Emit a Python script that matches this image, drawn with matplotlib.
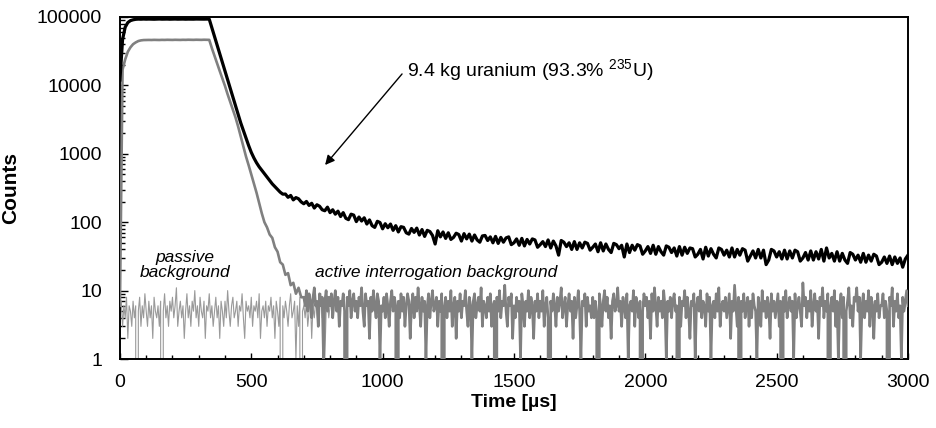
import numpy as np
import matplotlib
matplotlib.use("Agg")
import matplotlib.pyplot as plt
from matplotlib.ticker import FixedLocator, LogLocator, FuncFormatter, MultipleLocator, NullFormatter

plt.rcParams['font.family'] = ['Liberation Sans', 'DejaVu Sans']
plt.rcParams['mathtext.fontset'] = 'custom'
plt.rcParams['mathtext.rm'] = 'Liberation Sans'
plt.rcParams['mathtext.it'] = 'Liberation Sans:italic'
plt.rcParams['mathtext.bf'] = 'Liberation Sans:bold'
plt.rcParams['mathtext.default'] = 'regular'

# ---------------- data (counts per time bin) ----------------
bin_us = 10            # bin width of uranium trace and active rise/decay [us]
active_tail_start = 700
active_tail_bin_us = 5
passive_bin_us = 5

# 9.4 kg uranium (black), 10 us bins from t = 0
black_rise = [12000, 47000, 71000, 83000, 88500, 91000, 92500]
black_plateau = [93100, 92800, 93300, 92900, 93200, 93000, 92700, 93100, 93400, 92900,
                 93000, 93200, 92800, 93100, 93300, 92900, 93000, 93200, 92800, 93100,
                 93000, 92900, 93300, 93100, 92800, 93000, 93200, 93000]
black_decay = [69500, 52000, 39000, 29000, 21700, 16300, 12100, 9100, 6800, 5050,
               3780, 2820, 2190, 1700, 1320, 1050, 870, 740, 645, 575,
               510, 457, 407, 363, 331, 302, 275, 257]
black_tail = [258, 231, 246, 212, 229, 220, 198, 186, 201, 176,
              189, 161, 180, 171, 152, 147, 166, 138, 152, 131,
              145, 121, 138, 114, 109, 131, 127, 102, 119, 104,
              116, 94, 108, 89, 84, 103, 99, 80, 95, 83,
              94, 76, 89, 72, 86, 84, 70, 67, 81, 71,
              82, 65, 78, 62, 76, 73, 64, 48, 75, 61,
              72, 58, 70, 56, 60, 69, 66, 53, 68, 57,
              67, 53, 65, 55, 51, 63, 64, 54, 61, 50,
              62, 49, 60, 51, 59, 61, 47, 50, 57, 46,
              58, 45, 56, 48, 57, 55, 43, 47, 52, 44,
              55, 42, 53, 45, 33, 54, 51, 44, 50, 40,
              52, 40, 50, 42, 51, 49, 39, 43, 48, 37,
              50, 38, 48, 40, 36, 49, 47, 41, 46, 31,
              48, 36, 46, 39, 47, 45, 34, 38, 44, 35,
              46, 34, 44, 37, 33, 45, 43, 36, 42, 32,
              44, 33, 43, 35, 42, 41, 31, 34, 40, 29,
              43, 32, 41, 34, 30, 42, 40, 33, 39, 31,
              42, 31, 40, 33, 41, 39, 27, 32, 38, 30,
              40, 30, 39, 24, 28, 40, 38, 31, 37, 29,
              39, 29, 38, 30, 39, 37, 27, 30, 36, 28,
              38, 28, 37, 29, 40, 27, 42, 30, 35, 27,
              37, 27, 35, 28, 25, 36, 34, 28, 33, 26,
              35, 26, 33, 27, 34, 32, 24, 26, 31, 25,
              32, 24, 31, 25, 30, 22, 29, 33]

# active interrogation background (gray): 10 us bins up to 690 us, then 5 us bins
active_rise = [6, 17000, 24000, 31000, 36000, 40000, 42500, 44500, 45500]
active_plateau = [46000, 46100, 46200, 46100, 46300, 46200, 46100, 46300, 46200, 46400,
                  46300, 46200, 46400, 46300, 46200, 46400, 46300, 46500, 46400, 46300,
                  46500, 46400, 46300, 46500, 46400, 46300]
active_decay = [35000, 27000, 21000, 16200, 12600, 9800, 7400, 5700, 4400, 3400,
                2500, 1780, 1260, 910, 680, 500, 370, 270, 190, 135,
                100, 84, 66, 59, 43, 37, 26, 24, 17, 18,
                12, 13, 9, 11, 8]
active_tail = [8, 6, 10, 5, 9, 7, 4, 8, 11, 6, 7, 3, 9, 6, 8, 1, 7, 10, 5, 8,
               6, 9, 4, 7, 10, 5, 8, 3, 7, 6, 9, 5, 0, 8, 6, 10, 4, 7, 9, 5,
               7, 4, 8, 6, 11, 5, 3, 9, 6, 7, 2, 8, 5, 10, 6, 4, 9, 7, 1, 6,
               5, 8, 4, 9, 6, 3, 7, 10, 5, 8, 6, 0, 7, 4, 9, 5, 8, 3, 6, 9,
               7, 2, 6, 9, 4, 8, 5, 11, 6, 3, 8, 5, 7, 1, 6, 9, 4, 7, 10, 5,
               6, 8, 3, 7, 5, 9, 0, 6, 8, 4, 7, 5, 10, 3, 6, 8, 2, 7, 5, 9,
               4, 7, 6, 10, 5, 3, 8, 6, 1, 7, 9, 4, 6, 8, 5, 11, 3, 7, 6, 4,
               8, 5, 9, 3, 6, 7, 0, 8, 5, 10, 4, 7, 6, 12, 5, 3, 8, 6, 9, 2,
               6, 4, 8, 5, 7, 1, 9, 6, 3, 7, 5, 10, 4, 8, 6, 2, 7, 5, 9, 4,
               7, 5, 10, 3, 6, 8, 4, 0, 7, 5, 9, 6, 3, 8, 5, 7, 11, 4, 6, 8,
               3, 6, 9, 5, 7, 2, 8, 4, 6, 10, 5, 1, 7, 6, 9, 3, 8, 5, 6, 4,
               8, 4, 7, 5, 0, 9, 6, 3, 7, 10, 5, 8, 4, 6, 2, 7, 9, 5, 6, 11,
               5, 7, 3, 8, 6, 4, 9, 1, 6, 7, 5, 10, 3, 8, 6, 4, 7, 0, 5, 9,
               6, 8, 4, 7, 2, 9, 5, 11, 6, 3, 8, 5, 7, 4, 10, 6, 1, 7, 5, 8,
               4, 7, 9, 5, 6, 0, 8, 3, 7, 6, 10, 4, 8, 5, 2, 7, 6, 9, 1, 6,
               8, 5, 10, 4, 7, 6, 3, 9, 5, 8, 1, 6, 7, 4, 9, 5, 11, 3, 6, 7,
               5, 8, 4, 6, 9, 2, 7, 5, 12, 6, 3, 8, 0, 7, 5, 9, 4, 6, 8, 3,
               7, 4, 9, 6, 5, 1, 8, 6, 3, 10, 5, 7, 4, 8, 6, 2, 9, 5, 7, 4,
               6, 9, 3, 7, 0, 8, 5, 10, 4, 6, 8, 5, 7, 1, 9, 4, 6, 8, 5, 3,
               13, 6, 8, 4, 7, 5, 10, 3, 6, 9, 5, 7, 2, 8, 6, 11, 4, 7, 5, 9,
               0, 6, 8, 5, 10, 3, 7, 1, 6, 9, 4, 8, 0, 5, 7, 11, 4, 6, 3, 8,
               7, 11, 5, 8, 1, 6, 9, 4, 7, 5, 10, 3, 8, 6, 2, 7, 5, 9, 4, 6,
               6, 9, 4, 7, 5, 0, 8, 6, 11, 3, 7, 5, 9, 4, 6, 1, 8, 5, 7, 10,
               6]

# passive background (light gray), 5 us bins from t = 0
passive_counts = [5, 7, 3, 6, 4, 8, 2, 6, 5, 3,
                  7, 4, 6, 0, 5, 8, 3, 6, 4, 9,
                  5, 3, 7, 4, 6, 2, 8, 5, 4, 6,
                  3, 7, 0, 5, 9, 4, 6, 3, 7, 5,
                  8, 4, 6, 11, 3, 5, 7, 4, 6, 2,
                  5, 9, 4, 6, 3, 7, 5, 10, 4, 6,
                  3, 8, 5, 4, 7, 2, 6, 5, 9, 4,
                  6, 3, 5, 8, 4, 6, 2, 7, 5, 3,
                  7, 4, 10, 5, 3, 6, 8, 4, 5, 7,
                  3, 6, 5, 9, 4, 2, 7, 5, 6, 4,
                  8, 3, 6, 5, 7, 4, 9, 2, 5, 6,
                  4, 7, 3, 6, 5, 8, 4, 6, 2, 7,
                  5, 3, 8, 0, 6, 4, 7, 5, 3, 6,
                  9, 4, 5, 7, 1, 6, 3, 8, 0, 5,
                  6, 4, 7, 3, 5, 8, 2, 6, 4, 7,
                  5, 3, 6, 9, 4, 6, 1, 5, 7, 4,
                  6]

y_tick_values = [1, 10, 100, 1000, 10000, 100000]
x_tick_values = [0, 500, 1000, 1500, 2000, 2500, 3000]

black_counts = np.array(black_rise + black_plateau + black_decay + black_tail, float)
t_black = np.arange(len(black_counts)) * bin_us

active_head = np.array(active_rise + active_plateau + active_decay, float)
t_active_head = np.arange(len(active_head)) * bin_us
t_active_tail = active_tail_start + np.arange(len(active_tail)) * active_tail_bin_us
t_active = np.concatenate([t_active_head, t_active_tail])
active_counts = np.concatenate([active_head, np.array(active_tail, float)])

passive = np.array(passive_counts, float)
t_passive = np.arange(len(passive)) * passive_bin_us

# ---------------- figure ----------------
fig = plt.figure(figsize=(9.37, 4.28), dpi=100)
ax = fig.add_axes([0.128, 0.1612, 0.841, 0.7991])
ax.set_yscale('log', nonpositive='clip')

ax.plot(t_passive, passive, color='#9a9a9a', lw=0.8, zorder=2)
ax.plot(t_active, active_counts, color='#808080', lw=1.9, zorder=3)
ax.plot(t_black, black_counts, color='black', lw=2.3, zorder=4)

ax.set_xlim(0, 3000)
ax.set_ylim(1, 100000)

ax.xaxis.set_major_locator(FixedLocator(x_tick_values))
ax.xaxis.set_minor_locator(MultipleLocator(100))
ax.yaxis.set_major_locator(FixedLocator(y_tick_values))
ax.yaxis.set_minor_locator(LogLocator(base=10, subs=np.arange(2, 10)))
ax.yaxis.set_minor_formatter(NullFormatter())
ax.yaxis.set_major_formatter(FuncFormatter(lambda v, p: f"{int(round(v))}"))

ax.tick_params(axis='both', which='both', direction='in', top=False, right=False,
               width=1.0, labelsize=14, colors='black')
ax.tick_params(axis='y', which='major', length=6, pad=13)
ax.tick_params(axis='y', which='minor', length=3.5)
ax.tick_params(axis='x', which='major', length=4, pad=11)
ax.tick_params(axis='x', which='minor', length=3)
for s in ax.spines.values():
    s.set_linewidth(1.4)
    s.set_color('black')

ax.set_xlabel("Time [µs]", fontsize=14, fontweight='bold', labelpad=2)
ax.set_ylabel("Counts", fontsize=15, fontweight='bold', labelpad=12)

ax.text(1093, 16800, "9.4 kg uranium (93.3% $^{235}$U)", fontsize=14,
        ha='left', va='center')
ax.annotate("", xy=(781, 686), xytext=(1074, 14700),
            arrowprops=dict(arrowstyle='-|>', color='black', lw=1.0,
                            mutation_scale=14, shrinkA=0, shrinkB=0))
ax.text(247, 23.7, "passive\nbackground", fontsize=12.5, style='italic',
        ha='center', va='center', linespacing=1.05)
ax.text(742, 18.1, "active interrogation background", fontsize=12.5,
        style='italic', ha='left', va='center')

fig.savefig("out.png", dpi=100)
